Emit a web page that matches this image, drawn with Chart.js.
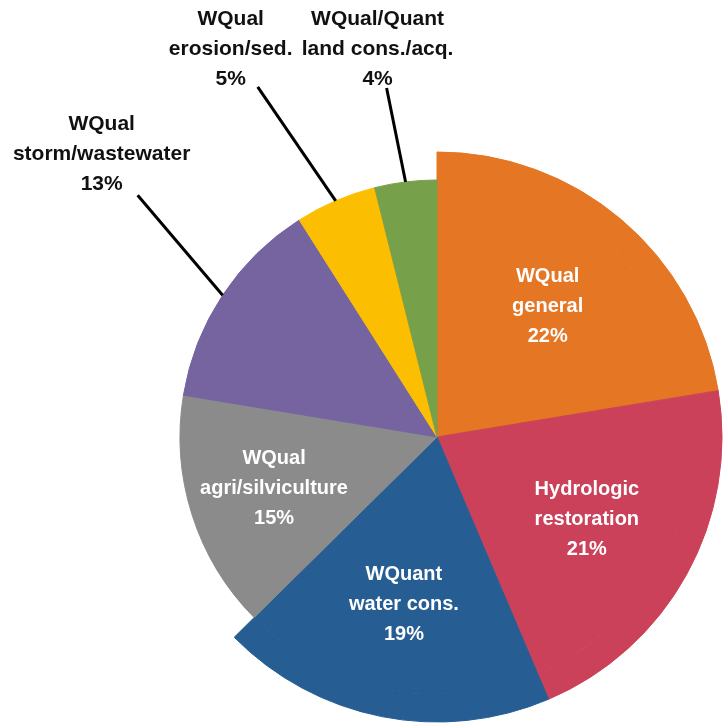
<!DOCTYPE html>
<html>
<head>
<meta charset="utf-8">
<script src="https://cdn.jsdelivr.net/npm/chart.js@4.4.1/dist/chart.umd.min.js"></script>
<style>
  html, body { margin: 0; padding: 0; background: #ffffff; }
  #wrap { width: 728px; height: 724px; }
</style>
</head>
<body>
<div id="wrap"><canvas id="c" width="728" height="724"></canvas></div>
<script>
// ---- data ----
const categories = [
  ['WQual', 'general'],
  ['Hydrologic', 'restoration'],
  ['WQuant', 'water cons.'],
  ['WQual', 'agri/silviculture'],
  ['WQual', 'storm/wastewater'],
  ['WQual', 'erosion/sed.'],
  ['WQual/Quant', 'land cons./acq.']
];
const values = [22.4, 21.2, 19.0, 15.0, 13.4, 5.1, 3.9];
const percentLabels = ['22%', '21%', '19%', '15%', '13%', '5%', '4%'];
const pulledOut = [true, true, true, false, false, false, false];
const outsideLabel = [false, false, false, false, true, true, true];

// ---- styles / layout ----
const colors = ['#E57623', '#CB4159', '#265D92', '#8A8B8A', '#7564A0', '#FCBE00', '#77A04B'];
const FONT_IN = 'bold 20px "Liberation Sans", Arial, sans-serif';
const FONT_OUT = 'bold 21px "Liberation Sans", Arial, sans-serif';
const LINE_H = 30;
// outside label placement: leader-line end offset from slice edge, and text-block offset from line end
const leaderOffsets = { 4: [-85, -100], 5: [-78, -114], 6: [-19, -94] };
const textOffsets = { 4: [-36, -41], 5: [-27, -38], 6: [-9, -39] };

const outerColors = colors.map((c, i) => pulledOut[i] ? c : 'rgba(0,0,0,0)');

const labelPlugin = {
  id: 'sliceLabels',
  afterDatasetsDraw(chart) {
    const ctx = chart.ctx;
    const outerMeta = chart.getDatasetMeta(0);
    const innerMeta = chart.getDatasetMeta(1);
    const maxR = outerMeta.data[0].outerRadius;
    ctx.save();
    ctx.textAlign = 'center';
    ctx.textBaseline = 'middle';
    innerMeta.data.forEach((arc, i) => {
      const p = arc.getProps(['x', 'y', 'startAngle', 'endAngle', 'outerRadius'], true);
      const mid = (p.startAngle + p.endAngle) / 2;
      const lines = categories[i].concat([percentLabels[i]]);
      let cx, cy;
      if (!outsideLabel[i]) {
        const r = maxR * 0.6;
        cx = p.x + Math.cos(mid) * r;
        cy = p.y + Math.sin(mid) * r;
        ctx.fillStyle = '#ffffff';
        ctx.font = FONT_IN;
      } else {
        const ex = p.x + Math.cos(mid) * p.outerRadius;
        const ey = p.y + Math.sin(mid) * p.outerRadius;
        const lx = ex + leaderOffsets[i][0];
        const ly = ey + leaderOffsets[i][1];
        ctx.strokeStyle = '#000000';
        ctx.lineWidth = 3;
        ctx.beginPath();
        ctx.moveTo(lx, ly);
        ctx.lineTo(ex, ey);
        ctx.stroke();
        cx = lx + textOffsets[i][0];
        cy = ly + textOffsets[i][1];
        ctx.fillStyle = '#111111';
        ctx.font = FONT_OUT;
      }
      const top = cy - (lines.length - 1) * LINE_H / 2;
      lines.forEach((t, k) => ctx.fillText(t, cx, top + k * LINE_H));
    });
    ctx.restore();
  }
};

new Chart(document.getElementById('c'), {
  type: 'pie',
  data: {
    labels: categories.map(c => c.join(' ')),
    datasets: [
      {
        data: values,
        backgroundColor: outerColors,
        borderColor: outerColors,
        borderWidth: 1,
        weight: 28
      },
      {
        data: values,
        backgroundColor: colors,
        borderColor: colors,
        borderWidth: 1,
        weight: 257
      }
    ]
  },
  options: {
    responsive: false,
    animation: false,
    events: [],
    radius: 285,
    hoverOffset: 0,
    layout: { padding: { left: 146, top: 150, right: 0, bottom: 0 } },
    plugins: {
      legend: { display: false },
      tooltip: { enabled: false }
    }
  },
  plugins: [labelPlugin]
});
</script>
</body>
</html>
